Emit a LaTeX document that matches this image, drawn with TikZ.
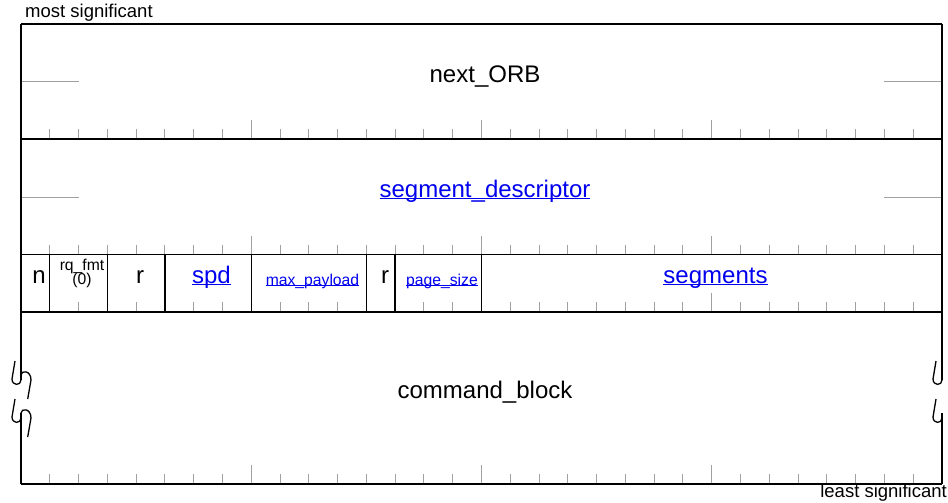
\documentclass[tikz,border=0pt]{standalone}
\usepackage{fontspec}
\setmainfont{Liberation Sans}
\definecolor{linkblue}{RGB}{0,0,238}
\definecolor{tickgray}{RGB}{160,160,160}
\newcommand\lnk[1]{{\color{linkblue}\setbox0\hbox{#1}\rlap{\rule[-0.09em]{\wd0}{0.06em}}\box0}}
\begin{document}
\begin{tikzpicture}[x=1pt,y=-1pt,
  frame/.style={line width=1.4pt,black},
  tickline/.style={line width=1pt,tickgray},
  big/.style={inner sep=0pt,anchor=base,font=\fontsize{24}{28}\selectfont},
  small/.style={inner sep=0pt,anchor=base,font=\fontsize{15.7}{18}\selectfont},
  edge/.style={inner sep=0pt,font=\fontsize{18.5}{22}\selectfont}]
\useasboundingbox (0,0) rectangle (948,503);
\def\W{28.78125}
% ticks rows 1,2,4
\foreach \yy in {139,254.5,484}{
  \foreach \k in {1,...,31}{\draw[tickline] (21+\k*\W,\yy) -- ++(0,-10);}
  \foreach \k in {8,16,24}{\draw[tickline] (21+\k*\W,\yy) -- ++(0,-19);}
}
% ticks row 3
\foreach \k in {2,4,6,7,9,10,11,14,15,17,18,...,31}{\draw[tickline] (21+\k*\W,312) -- ++(0,-10);}
\draw[tickline] (21+24*\W,312) -- ++(0,-19);
% short gray lines
\foreach \yy in {81.5,197}{
  \draw[tickline] (21,\yy) -- ++(2*\W,0);
  \draw[tickline] (942,\yy) -- ++(-2*\W,0);
}
% frame
\foreach \yy in {24,139,254.5,312,484}{\draw[frame] (21,\yy) -- (942,\yy);}
\foreach \k in {1,3,5,8,12,13,16}{\draw[frame] (21+\k*\W,254.5) -- (21+\k*\W,312);}
% left edge with break marks
\draw[frame] (21,24) -- (21,380);
\draw[frame] (21,413) -- (21,484);
\foreach \a in {375,413}{
  \draw[line width=1.3pt] (21,\a+5) .. controls (21,\a+11) and (12,\a+11) .. (12,\a+4) -- (15,\a-14);
  \draw[line width=1.3pt] (21,\a) .. controls (21,\a-5) and (31,\a-5) .. (31,\a+5) -- (27.7,\a+24);
}
% right edge with break marks
\draw[frame] (942,24) -- (942,380);
\draw[frame] (942,413) -- (942,484);
\foreach \a in {375,413}{
  \draw[line width=1.3pt] (942,\a+5) .. controls (942,\a+11) and (933,\a+11) .. (933,\a+4) -- (936,\a-14);
}
% texts
\node[edge,anchor=base west] (ms) at (25,18) {most significant};
\node[edge,anchor=base east] (ls) at (947,497) {least significant};
\node[big] (next) at (485,82) {next\_ORB};
\node[big] (segd) at (485,197) {\lnk{segment\_descriptor}};
\node[big] (n) at (39,283) {n};
\node[small,align=center] (rq) at (82,270.5) {rq\_fmt};
\node[small] (rq0) at (82,284.5) {(0)};
\node[big] (r1) at (140,283) {r};
\node[big] (spd) at (211.5,283) {\lnk{spd}};
\node[small] (mp) at (312.5,285) {\lnk{max\_payload}};
\node[big] (r2) at (385,283) {r};
\node[small] (ps) at (442,285) {\lnk{page\_size}};
\node[big] (seg) at (715.5,283) {\lnk{segments}};
\node[big] (cb) at (485,398) {command\_block};
\end{tikzpicture}
\end{document}
